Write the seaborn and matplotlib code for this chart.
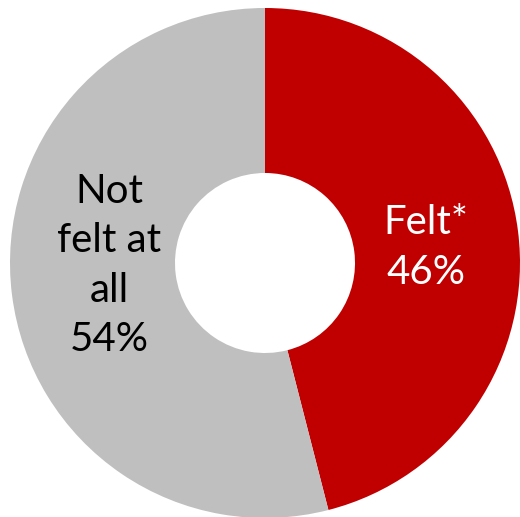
import matplotlib
matplotlib.use("Agg")
import matplotlib.pyplot as plt
import seaborn as sns
import numpy as np

sns.set_theme(style="white")
plt.rcParams['font.family'] = ['Lato', 'DejaVu Sans']

labels = ["Felt*", "Not\nfelt at\nall"]
values = [46, 54]
colors = ["#C00000", "#BFBFBF"]
text_colors = ["white", "black"]

fig = plt.figure(figsize=(5.2, 5.17), dpi=100)
ax = fig.add_axes([0.0, 0.0, 1.0, 1.0])
wedges, _ = ax.pie(values, colors=colors, startangle=90, counterclock=False,
                   radius=1.0, wedgeprops=dict(width=0.647, linewidth=0))
label_pos = [(0.63, 0.06), (-0.61, -0.01)]
for lab, v, tc, (x, y) in zip(labels, values, text_colors, label_pos):
    ax.text(x, y, f"{lab}\n{v}%", ha="center", va="center",
            fontsize=29, color=tc, linespacing=1.42)
ax.set_xlim(-265 / 255, 255 / 255)
ax.set_ylim(-254 / 255, 263 / 255)
ax.set_aspect("equal")
ax.axis("off")
fig.savefig("out.png", dpi=100)
